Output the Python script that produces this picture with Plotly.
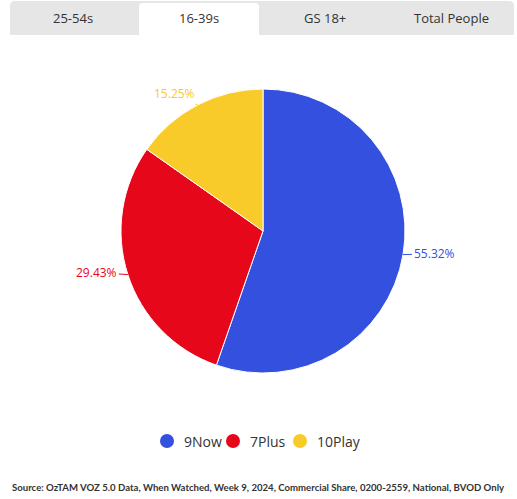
import math
import plotly.graph_objects as go

W, H = 517, 499

# ---- data ----
categories = ["9Now", "7Plus", "10Play"]
shares = [55.32, 29.43, 15.25]
colors = ["#3450DE", "#E6071B", "#F8CA2A"]
tab_labels = ["25-54s", "16-39s", "GS 18+", "Total People"]
active_tab = "16-39s"
source_text = "Source: OzTAM VOZ 5.0 Data, When Watched, Week 9, 2024, Commercial Share, 0200-2559, National, BVOD Only"

FONT = "Open Sans"

def px(x):
    return x / W

def py(y):
    return 1 - y / H

# pie geometry (pixels)
cx, cy, r = 263, 231, 142

fig = go.Figure()
fig.add_trace(go.Pie(
    labels=categories, values=shares, sort=False, direction="clockwise", rotation=0,
    marker=dict(colors=colors, line=dict(color="white", width=1)),
    textinfo="none", hoverinfo="label+percent", showlegend=False,
    domain=dict(x=[px(cx - r), px(cx + r)], y=[py(cy + r), py(cy - r)]),
))

# outside labels with leader lines computed from data
total = sum(shares)
cum = 0
annotations = []
shapes = []
for c, v, col in zip(categories, shares, colors):
    mid = (cum + v / 2) / total * 2 * math.pi
    cum += v
    ex = cx + r * math.sin(mid)
    ey = cy - r * math.cos(mid)
    s = math.sin(mid)
    if abs(s) > 0.5:
        ax = 31 if s > 0 else -31
        ay = -1 if s > 0 else -2
    else:
        ax, ay = -23, -11
    annotations.append(dict(
        x=px(ex), y=py(ey), xref="paper", yref="paper",
        text=f"{v:.2f}%", showarrow=True, arrowhead=0, arrowwidth=1,
        arrowcolor=col, ax=ax, ay=ay, font=dict(family=FONT, size=12, color=col),
    ))

# legend (circle markers + labels, in legend order)
legend_x = [167, 233, 300]   # circle centres, px
legend_y = 441
for c, col, lx in zip(categories, colors, legend_x):
    shapes.append(dict(type="circle", xref="paper", yref="paper",
                       x0=px(lx - 7), x1=px(lx + 7), y0=py(legend_y + 7), y1=py(legend_y - 7),
                       fillcolor=col, line=dict(width=0)))
    annotations.append(dict(x=px(lx + 15), y=py(legend_y), xref="paper", yref="paper",
                            xanchor="left", yanchor="middle", text=c, showarrow=False,
                            font=dict(family=FONT, size=14, color="#333333")))

# tabs
def rounded_top(x0, y0, x1, y1, rad, fill):
    p = (f"M {px(x0)} {py(y1)} L {px(x0)} {py(y0 + rad)} "
         f"Q {px(x0)} {py(y0)} {px(x0 + rad)} {py(y0)} "
         f"L {px(x1 - rad)} {py(y0)} Q {px(x1)} {py(y0)} {px(x1)} {py(y0 + rad)} "
         f"L {px(x1)} {py(y1)} Z")
    return dict(type="path", path=p, xref="paper", yref="paper",
                fillcolor=fill, line=dict(width=0), layer="below")

shapes.append(rounded_top(10, 1, 514, 35, 5, "#E6E6E6"))
tab_w = (514 - 10) / len(tab_labels)
for i, t in enumerate(tab_labels):
    x0 = 10 + i * tab_w
    if t == active_tab:
        shapes.append(rounded_top(x0 + 3, 3, x0 + tab_w - 3, 35, 4, "#FFFFFF"))
    annotations.append(dict(x=px(x0 + tab_w / 2), y=py(18), xref="paper", yref="paper",
                            xanchor="center", yanchor="middle",
                            text=t, showarrow=False,
                            font=dict(family=FONT, size=13, color="#333333")))

annotations.append(dict(x=px(10), y=py(487), xref="paper", yref="paper",
                        xanchor="left", yanchor="middle",
                        text=f"<b>{source_text}</b>", showarrow=False,
                        font=dict(family="Lato", size=9.6, color="#333333")))

fig.update_layout(
    width=W, height=H, margin=dict(l=0, r=0, t=0, b=0),
    paper_bgcolor="white", plot_bgcolor="white",
    showlegend=False,
    annotations=annotations, shapes=shapes,
)

fig.write_html("out.html")
